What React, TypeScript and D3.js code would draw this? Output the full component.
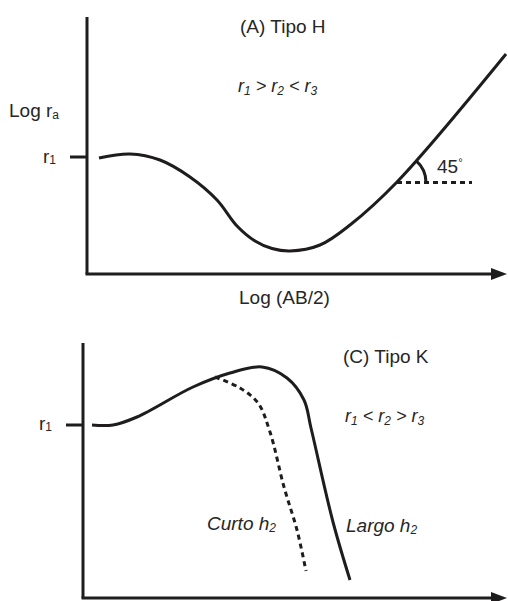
import React from "react";
import * as d3 from "d3";

// Schematic sounding curves, in log units (x = log AB/2, y = log ra)
const typeHCurveX = [0.12, 0.43, 0.73, 1.03, 1.3, 1.5, 1.68, 1.85, 2.03, 2.33, 2.63, 3.1, 4.19];
const typeHCurveY = [1.16, 1.2, 1.14, 0.97, 0.74, 0.48, 0.33, 0.255, 0.23, 0.29, 0.49, 0.92, 2.2];
const typeHR1 = 1.17;
const typeHAsymptote = [3.1, 3.85]; // horizontal reference at the 45° branch
const typeHAsymptoteY = 0.915;

const typeKLongX = [0.09, 0.3, 0.54, 1.1, 1.47, 1.79, 2.04, 2.21, 2.28, 2.5, 2.67];
const typeKLongY = [1.73, 1.73, 1.81, 2.11, 2.25, 2.31, 2.2, 1.98, 1.7, 0.76, 0.18];
const typeKShortX = [1.32, 1.57, 1.75, 1.87, 2.01, 2.14, 2.23];
const typeKShortY = [2.21, 2.1, 1.95, 1.66, 1.11, 0.68, 0.27];
const typeKR1 = 1.73;

const ink = "#1e1c1d";
const textInk = "#262626";
const font = "Liberation Sans, Arial, Helvetica, sans-serif";

function Arrow({ x, y }: { x: number; y: number }) {
  const p = d3.path();
  p.moveTo(x, y);
  p.lineTo(x - 16, y - 6);
  p.lineTo(x - 16, y + 6);
  p.closePath();
  return <path d={p.toString()} fill={ink} />;
}

export default function App() {
  // Panel A scales
  const xA = d3.scaleLinear().domain([0, 4.2]).range([87, 507]);
  const yA = d3.scaleLinear().domain([0, 2.57]).range([274, 17]);
  // Panel C scales
  const xC = d3.scaleLinear().domain([0, 4.24]).range([83, 507]);
  const yC = d3.scaleLinear().domain([0, 2.55]).range([598, 343]);

  const curve = d3.curveCatmullRom.alpha(0.5);
  const lineA = d3
    .line<number>()
    .x((d, i) => xA(typeHCurveX[i]))
    .y((d) => yA(d))
    .curve(curve);
  const lineCLong = d3
    .line<number>()
    .x((d, i) => xC(typeKLongX[i]))
    .y((d) => yC(d))
    .curve(curve);
  const lineCShort = d3
    .line<number>()
    .x((d, i) => xC(typeKShortX[i]))
    .y((d) => yC(d))
    .curve(curve);

  // 45° angle arc at the start of the asymptote
  const cx = xA(typeHAsymptote[0]);
  const cy = yA(typeHAsymptoteY);
  const arc = d3.path();
  const a0 = -Math.atan(1.19);
  arc.arc(cx, cy, 29, a0, 0);

  const sub = { fontSize: 12 };

  return (
    <svg
      width={508}
      height={601}
      style={{ position: "absolute", left: 0, top: 0, background: "#fff" }}
      fontFamily={font}
    >
      {/* Panel A: type H */}
      <g>
        <line x1={xA(0)} y1={yA(0)} x2={xA(0)} y2={yA(2.57)} stroke={ink} strokeWidth={3} />
        <line x1={xA(0) - 1.5} y1={yA(0)} x2={xA(4.2) - 10} y2={yA(0)} stroke={ink} strokeWidth={3} />
        <Arrow x={xA(4.2)} y={yA(0)} />
        <line x1={xA(0) - 17} y1={yA(typeHR1)} x2={xA(0)} y2={yA(typeHR1)} stroke={ink} strokeWidth={3} />
        <path d={lineA(typeHCurveY) || ""} fill="none" stroke={ink} strokeWidth={3} />
        <line
          x1={xA(typeHAsymptote[0])}
          x2={xA(typeHAsymptote[1])}
          y1={yA(typeHAsymptoteY)}
          y2={yA(typeHAsymptoteY)}
          stroke={ink}
          strokeWidth={3}
          strokeDasharray="5 4"
        />
        <path d={arc.toString()} fill="none" stroke={ink} strokeWidth={3} />
        <text x={437} y={173} fontSize={19} fill={textInk}>
          45<tspan fontSize={11} dy={-7}>°</tspan>
        </text>
        <text x={240} y={33} fontSize={19} fill={textInk}>(A) Tipo H</text>
        <text x={238} y={92} fontSize={18} fontStyle="italic" fill={textInk}>
          r<tspan {...sub} dy={3}>1</tspan>
          <tspan dy={-3}> &gt; r</tspan>
          <tspan {...sub} dy={3}>2</tspan>
          <tspan dy={-3}> &lt; r</tspan>
          <tspan {...sub} dy={3}>3</tspan>
        </text>
        <text x={9} y={117} fontSize={19} fill={textInk}>
          Log r<tspan {...sub} dy={2}>a</tspan>
        </text>
        <text x={43} y={163} fontSize={19} fill={textInk}>
          r<tspan {...sub} dy={1}>1</tspan>
        </text>
        <text x={239} y={304} fontSize={19} fill={textInk}>Log (AB/2)</text>
      </g>

      {/* Panel C: type K */}
      <g>
        <line x1={xC(0)} y1={yC(0)} x2={xC(0)} y2={yC(2.55)} stroke={ink} strokeWidth={3} />
        <line x1={xC(0) - 1.5} y1={yC(0)} x2={xC(4.24) - 10} y2={yC(0)} stroke={ink} strokeWidth={3} />
        <Arrow x={xC(4.24)} y={yC(0)} />
        <line x1={xC(0) - 17} y1={yC(typeKR1)} x2={xC(0)} y2={yC(typeKR1)} stroke={ink} strokeWidth={3} />
        <path d={lineCLong(typeKLongY) || ""} fill="none" stroke={ink} strokeWidth={3} />
        <path
          d={lineCShort(typeKShortY) || ""}
          fill="none"
          stroke={ink}
          strokeWidth={3}
          strokeDasharray="5 4"
        />
        <text x={343} y={363} fontSize={19} fill={textInk}>(C) Tipo K</text>
        <text x={345} y={422} fontSize={18} fontStyle="italic" fill={textInk}>
          r<tspan {...sub} dy={3}>1</tspan>
          <tspan dy={-3}> &lt; r</tspan>
          <tspan {...sub} dy={3}>2</tspan>
          <tspan dy={-3}> &gt; r</tspan>
          <tspan {...sub} dy={3}>3</tspan>
        </text>
        <text x={207} y={530} fontSize={19} fontStyle="italic" fill={textInk}>
          Curto h<tspan {...sub} dy={2}>2</tspan>
        </text>
        <text x={346} y={532} fontSize={19} fontStyle="italic" fill={textInk}>
          Largo h<tspan {...sub} dy={2}>2</tspan>
        </text>
        <text x={39} y={430} fontSize={19} fill={textInk}>
          r<tspan {...sub} dy={1}>1</tspan>
        </text>
      </g>
    </svg>
  );
}
